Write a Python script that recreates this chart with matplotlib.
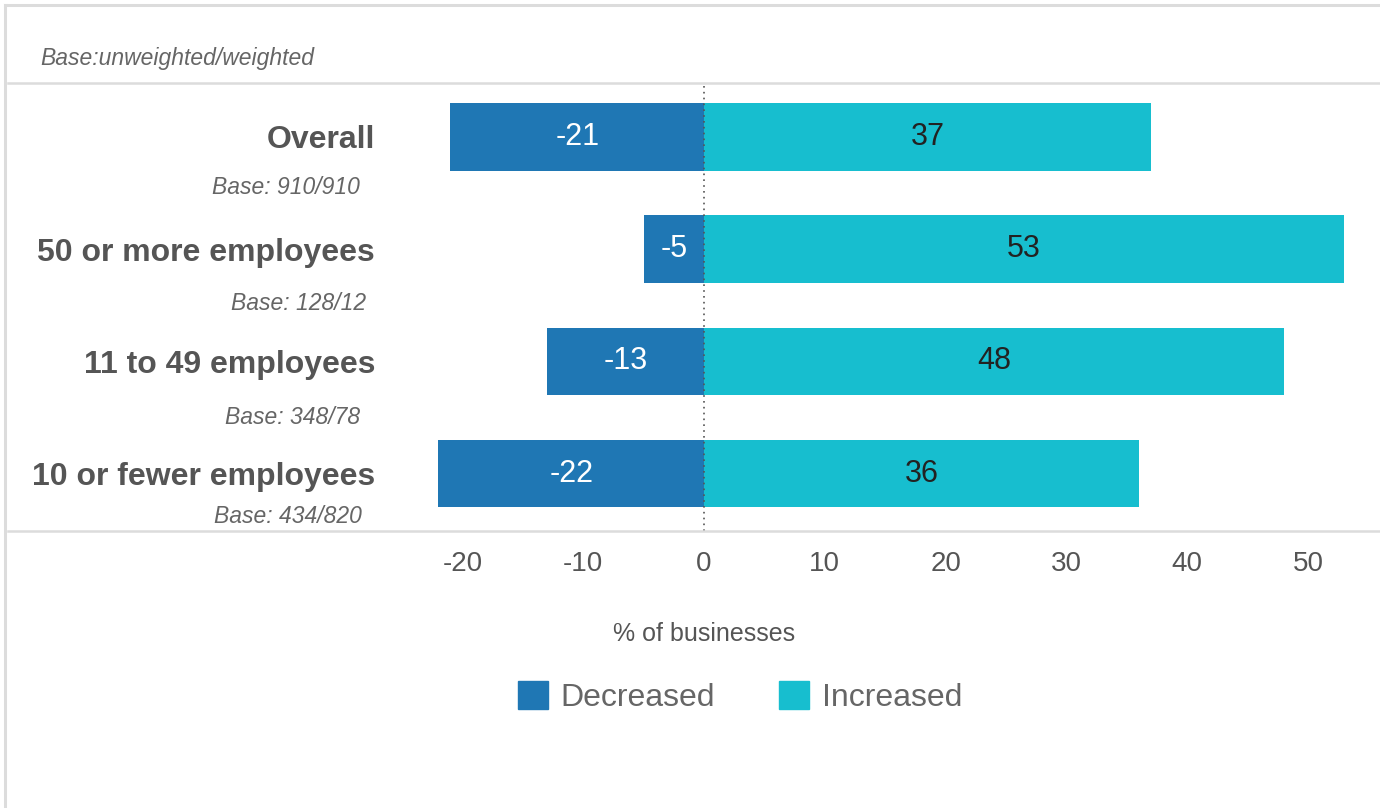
import matplotlib
matplotlib.use("Agg")
import matplotlib.pyplot as plt
import matplotlib.transforms as mtransforms
from matplotlib.lines import Line2D
from matplotlib.patches import Patch

plt.rcParams["font.family"] = ["Liberation Sans", "DejaVu Sans"]

groups = ["Overall", "50 or more employees", "11 to 49 employees", "10 or fewer employees"]
bases = ["Base: 910/910", "Base: 128/12", "Base: 348/78", "Base: 434/820"]
decreased = [-21, -5, -13, -22]
increased = [37, 53, 48, 36]
xticks = [-20, -10, 0, 10, 20, 30, 40, 50]

C_DEC = "#1f77b4"
C_INC = "#17becf"
GRID = "#dcdcdc"
TXT = "#555555"

W, H = 1380, 808
fig = plt.figure(figsize=(W / 100, H / 100), dpi=100)
ax = fig.add_axes([400 / W, 1 - 531 / H, 970 / W, 448 / H])

y = list(range(len(groups)))
b_dec = ax.barh(y, decreased, height=0.6, color=C_DEC, label="Decreased")
b_inc = ax.barh(y, increased, height=0.6, color=C_INC, label="Increased")
ax.bar_label(b_dec, label_type="center", color="white", fontsize=22)
ax.bar_label(b_inc, label_type="center", color="#222222", fontsize=22)

ax.axvline(0, color="#555555", lw=1.2, ls=(0, (1, 2.5)), zorder=3)

ax.set_xlim(-25.17, 55.13)
ax.set_ylim(3.51, -0.48)
ax.set_xticks(xticks)
ax.set_xticklabels([str(t) for t in xticks])
ax.tick_params(axis="x", length=0, pad=14.5, labelsize=20, labelcolor=TXT)
ax.set_yticks([])
for s in ax.spines.values():
    s.set_visible(False)

# row labels sit left of the axes, with the sample base underneath
lab = mtransforms.blended_transform_factory(fig.transFigure, ax.transData)
base_dy = [0.45, 0.48, 0.50, 0.38]
base_x = [360, 366, 360, 362]
for i, (g, b) in enumerate(zip(groups, bases)):
    ax.text(375 / W, i + 0.03, g, transform=lab, ha="right", va="center",
            fontsize=23, fontweight="bold", color=TXT)
    ax.text(base_x[i] / W, i + base_dy[i], b, transform=lab, ha="right", va="center",
            fontsize=16.5, style="italic", color="#666666")

fig.text(40 / W, 1 - 59 / H, "Base:unweighted/weighted", ha="left", va="center",
         fontsize=16.5, style="italic", color="#666666")
fig.text(704 / W, 1 - 634 / H, "% of businesses", ha="center", va="center",
         fontsize=18, color=TXT)

# frame and separator rules
for ln in [
    Line2D([5 / W, 1], [1 - 5 / H, 1 - 5 / H], color=GRID, lw=2.2),
    Line2D([5 / W, 5 / W], [0, 1 - 5 / H], color=GRID, lw=2.2),
    Line2D([8 / W, 1], [1 - 83 / H, 1 - 83 / H], color=GRID, lw=1.8),
    Line2D([8 / W, 1], [1 - 531 / H, 1 - 531 / H], color=GRID, lw=1.8),
]:
    fig.add_artist(ln)

handles = [Patch(color=C_DEC, label="Decreased"), Patch(color=C_INC, label="Increased")]
fig.legend(handles=handles, loc="center", bbox_to_anchor=(740 / W, 1 - 697 / H),
           ncol=2, frameon=False, fontsize=23, labelcolor="#666666",
           handlelength=0.94, handleheight=0.94, handletextpad=0.4, columnspacing=2.0)

fig.savefig("out.png", dpi=100, facecolor="white")
